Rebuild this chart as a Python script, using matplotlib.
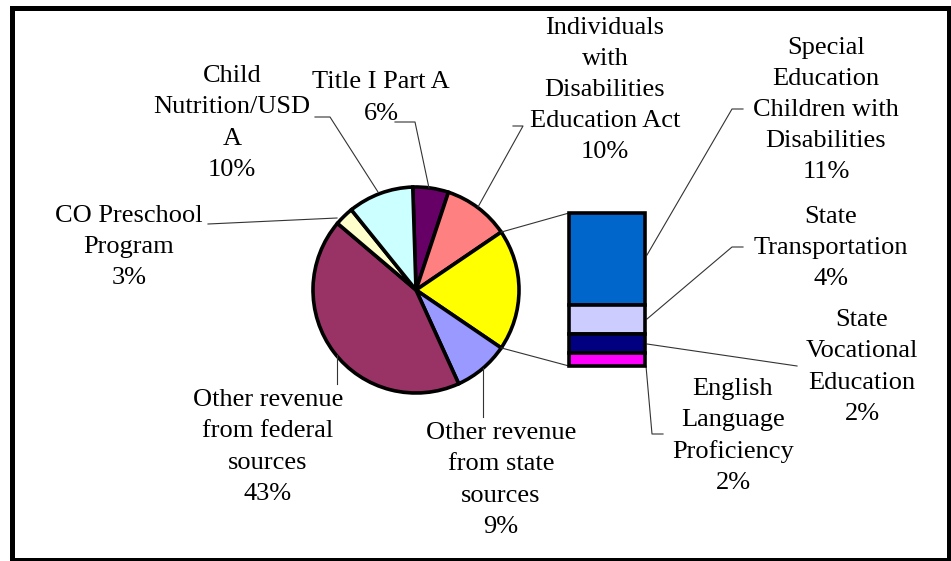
import numpy as np
import matplotlib
matplotlib.use("Agg")
import matplotlib.pyplot as plt
from matplotlib.patches import Rectangle

# pie slices, clockwise from the top
pie_labels = ["Title I Part A", "Individuals\nwith\nDisabilities\nEducation Act", "Other",
              "Other revenue\nfrom state\nsources", "Other revenue\nfrom federal\nsources",
              "CO Preschool\nProgram", "Child\nNutrition/USD\nA"]
pie_values = [5.6, 10.4, 19.0, 8.7, 43.0, 3.0, 10.3]
pie_colors = ["#660066", "#FF8080", "#FFFF00", "#9999FF", "#993366", "#FFFFCC", "#CCFFFF"]

# the "Other" slice broken out into the bar, top to bottom
bar_labels = ["Special\nEducation\nChildren with\nDisabilities", "State\nTransportation",
              "State\nVocational\nEducation", "English\nLanguage\nProficiency"]
bar_values = [11.4, 3.6, 2.4, 1.6]
bar_colors = ["#0066CC", "#CCCCFF", "#000080", "#FF00FF"]

W, H = 951, 561
def Y(y):  # picture rows -> axes y
    return H - y

plt.rcParams['font.family'] = ['Liberation Serif', 'DejaVu Serif']
fig = plt.figure(figsize=(W / 100, H / 100), dpi=100)
ax = fig.add_axes([0, 0, 1, 1])

# pie, "Other" slice centred at 3 o'clock
other_i = 2
start = 360 * (sum(pie_values[:other_i]) + pie_values[other_i] / 2) / sum(pie_values)
cx, cy, r = 416, Y(290), 103
wedges, _ = ax.pie(pie_values, colors=pie_colors, startangle=start, counterclock=False,
                   center=(cx, cy), radius=r, frame=True,
                   wedgeprops=dict(edgecolor='black', linewidth=2.6))
ax.set_xlim(0, W)
ax.set_ylim(0, H)
ax.set_aspect('equal')
ax.axis('off')

# stacked bar
bx0, bw, btop, bh = 569, 76, Y(213), 153
scale = bh / sum(bar_values)
top = btop
for v, c in zip(bar_values, bar_colors):
    ax.bar(bx0 + bw / 2, v * scale, bottom=top - v * scale, width=bw, color=c,
           edgecolor='black', linewidth=2.6, zorder=3)
    top -= v * scale

# connectors from the Other slice to the bar
half = 180 * pie_values[other_i] / sum(pie_values)
for a, by in [(half, btop), (-half, btop - bh)]:
    px = cx + r * np.cos(np.radians(a))
    py = cy + r * np.sin(np.radians(a))
    ax.plot([px, bx0], [py, by], color='#333333', lw=0.8, zorder=1)

# label positions (centre of text block) and leader lines
fs = 19
def label(txt, x, y):
    ax.text(x, Y(y), txt, ha='center', va='center', ma='center', fontsize=fs,
            linespacing=1.53, color='black')

def leader(pts):
    xs = [p[0] for p in pts]
    ys = [Y(p[1]) for p in pts]
    ax.plot(xs, ys, color='#333333', lw=0.8, zorder=1)

pie_pos = [(381, 98), (605, 90), None, (501, 480), (268, 447), (129, 247), (232, 123)]
for txt, v, pos in zip(pie_labels, pie_values, pie_pos):
    if pos is None:
        continue
    label(f"{txt}\n{v:.0f}%", *pos)

bar_pos = [(826, 110), (831, 248), (862, 367), (733, 436)]
for txt, v, pos in zip(bar_labels, bar_values, bar_pos):
    label(f"{txt}\n{v:.0f}%", *pos)

leader([(315, 117), (330, 117), (378, 192)])        # child nutrition
leader([(395, 122), (415, 122), (429, 188)])        # title I
leader([(513, 126), (523, 126), (478, 207)])        # IDEA
leader([(208, 224), (337, 218)])                    # preschool
leader([(337, 355), (337, 384)])                    # federal
leader([(483, 368), (483, 417)])                    # state
leader([(743, 109), (732, 109), (647, 255)])        # special ed
leader([(743, 247), (732, 247), (647, 319)])        # transportation
leader([(647, 344), (797, 366)])                    # vocational
leader([(646, 366), (652, 434), (663, 434)])        # ELP

# outer frame
ax.add_patch(Rectangle((11.5, Y(559.5)), 937, 552, fill=False, edgecolor='black',
                       linewidth=3.6, zorder=5, clip_on=False))

fig.savefig("out.png", dpi=100)
